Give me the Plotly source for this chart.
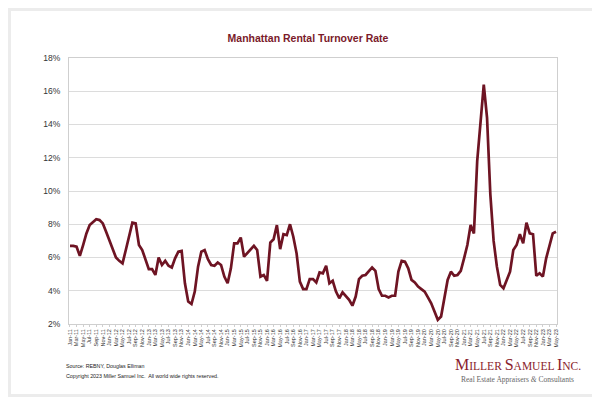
import pandas as pd
import plotly.graph_objects as go

# ---- data ----
months = [d.strftime("%b-%y") for d in pd.date_range("2011-01-01", "2023-05-01", freq="MS")]
turnover_rate = [
    6.7, 6.7, 6.65, 6.1, 6.75, 7.45, 7.95, 8.15, 8.3, 8.25, 8.05, 7.55,      # 2011
    7.05, 6.55, 6.0, 5.8, 5.65, 6.45, 7.35, 8.1, 8.05, 6.75, 6.45, 5.85,      # 2012
    5.3, 5.3, 4.95, 6.0, 5.55, 5.8, 5.5, 5.4, 5.95, 6.35, 6.4, 4.45,          # 2013
    3.35, 3.2, 3.95, 5.45, 6.35, 6.45, 5.9, 5.55, 5.5, 5.7, 5.55, 4.85,       # 2014
    4.45, 5.35, 6.85, 6.85, 7.2, 6.05, 6.25, 6.45, 6.7, 6.45, 4.85, 4.95,     # 2015
    4.6, 6.9, 7.1, 7.95, 6.5, 7.4, 7.35, 8.0, 7.25, 6.25, 4.55, 4.1,          # 2016
    4.1, 4.7, 4.7, 4.5, 5.1, 5.05, 5.5, 4.45, 4.6, 3.95, 3.55, 3.9,           # 2017
    3.7, 3.45, 3.1, 3.65, 4.7, 4.9, 4.95, 5.15, 5.4, 5.2, 4.1, 3.7,           # 2018
    3.7, 3.6, 3.7, 3.7, 5.15, 5.8, 5.75, 5.35, 4.65, 4.5, 4.25, 4.1,          # 2019
    3.95, 3.6, 3.25, 2.75, 2.25, 2.45, 3.65, 4.65, 5.15, 4.9, 4.95, 5.2,      # 2020
    5.95, 6.75, 7.95, 7.45, 11.8, 14.0, 16.4, 14.4, 9.8, 7.0, 5.45, 4.35,     # 2021
    4.15, 4.65, 5.15, 6.45, 6.75, 7.4, 6.85, 8.1, 7.45, 7.4, 4.9, 5.05,       # 2022
    4.85, 5.95, 6.75, 7.45, 7.55,                                             # 2023
]
tick_labels = months[::2]
y_ticks = [2, 4, 6, 8, 10, 12, 14, 16, 18]
y_tick_text = [f"{v}%" for v in y_ticks]

title_text = "Manhattan Rental Turnover Rate"
source_text = "Source: REBNY, Douglas Elliman"
copyright_text = "Copyright 2023 Miller Samuel Inc.  All world wide rights reserved."

# ---- style ----
LINE = "#6e1423"
TITLE_C = "#7a1a2a"
GRID = "#dcdcdc"
L, R, T, B = 61, 549, 50, 316
W, H = 600, 397

def px_x(p):
    return (p - L) / (R - L)

def px_y(p):
    return (B - p) / (B - T)

fig = go.Figure()
fig.add_trace(go.Scatter(
    x=months, y=turnover_rate, mode="lines",
    line=dict(color=LINE, width=2.7),
    hoverinfo="x+y",
))

fig.update_layout(
    width=W, height=H,
    margin=dict(l=L, r=W - R, t=T, b=H - B, pad=0),
    paper_bgcolor="#ececec",
    plot_bgcolor="white",
    showlegend=False,
    font=dict(family="Arial, Liberation Sans, sans-serif", color="#333333"),
    title=dict(
        text="<b>" + title_text + "</b>",
        x=0.5, xanchor="center", xref="container",
        y=1 - 30 / H, yanchor="middle", yref="container",
        font=dict(size=10.5, color=TITLE_C, family="Arial, Liberation Sans, sans-serif"),
    ),
    xaxis=dict(
        type="category",
        range=[-0.3, len(months) - 0.7],
        tickmode="array", tickvals=tick_labels, ticktext=tick_labels,
        tickangle=-90, tickfont=dict(size=5.5, color="#333333"),
        showgrid=False,
        showline=True, linecolor="#cfcfcf", linewidth=1, mirror=True,
        ticks="outside", ticklen=2, tickcolor="#cfcfcf",
        zeroline=False,
    ),
    yaxis=dict(
        range=[2, 18],
        tickmode="array", tickvals=y_ticks, ticktext=y_tick_text,
        tickfont=dict(size=8.5, color="#333333"),
        showgrid=True, gridcolor=GRID, gridwidth=1,
        showline=True, linecolor="#cfcfcf", linewidth=1, mirror=True,
        zeroline=False, ticks="", ticklabelstandoff=6,
    ),
    shapes=[dict(
        type="rect", xref="paper", yref="paper", layer="below",
        x0=px_x(3), x1=px_x(594), y0=px_y(386), y1=px_y(3),
        fillcolor="white", line=dict(width=0),
    )],
)

fig.add_annotation(
    text=source_text, xref="paper", yref="paper",
    x=px_x(56), y=px_y(358), xanchor="left", yanchor="middle",
    showarrow=False, font=dict(size=5.3, color="#222222"),
)
fig.add_annotation(
    text=copyright_text, xref="paper", yref="paper",
    x=px_x(56), y=px_y(368), xanchor="left", yanchor="middle",
    showarrow=False, font=dict(size=5.3, color="#222222"),
)
big = "<span style='font-size:16px'>%s</span>"
logo = big % "M" + "ILLER " + big % "S" + "AMUEL " + big % "I" + "NC."
fig.add_annotation(
    text=logo, xref="paper", yref="paper",
    x=px_x(510), y=px_y(356), xanchor="center", yanchor="middle",
    showarrow=False,
    font=dict(size=11.5, color="#8a1c2c", family="Liberation Serif, Times New Roman, serif"),
)
fig.add_annotation(
    text="Real Estate Appraisers <i>&amp;</i> Consultants", xref="paper", yref="paper",
    x=px_x(509), y=px_y(371), xanchor="center", yanchor="middle",
    showarrow=False,
    font=dict(size=7.5, color="#666666", family="Liberation Serif, Times New Roman, serif"),
)

fig.write_html("out.html")
